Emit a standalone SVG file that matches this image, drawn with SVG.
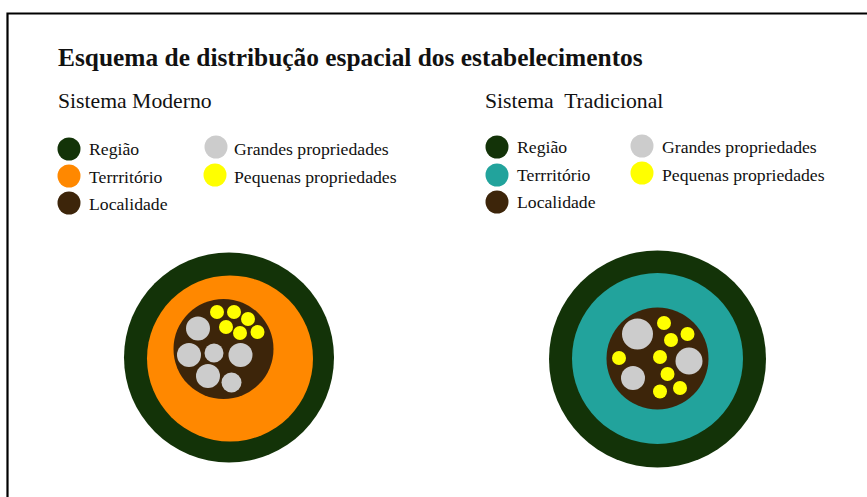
<svg xmlns="http://www.w3.org/2000/svg" width="867" height="497" viewBox="0 0 867 497">
<style>
text{font-family:"Liberation Serif","Times New Roman",serif;fill:#111}
.title{font-size:25.4px;font-weight:bold}
.sub{font-size:21.7px}
.leg{font-size:17.7px}
.reg{fill:#133308}
.ter{fill:#ff8800}
.ter2{fill:#22a39c}
.loc{fill:#3d250a}
.gra{fill:#cccccc}
.peq{fill:#ffff00}
</style>
<rect width="867" height="497" fill="#fff"/>
<path d="M7.5 497 V13.5 H867" fill="none" stroke="#000" stroke-width="2.2"/>
<text class="title" x="58" y="66">Esquema de distribução espacial dos estabelecimentos</text>
<g id="legend-moderno">
<text class="sub" x="58" y="108">Sistema Moderno</text>
<circle class="reg" cx="69" cy="149" r="11.5"/><text class="leg" x="89" y="155">Região</text>
<circle class="ter" cx="69" cy="176" r="11.5"/><text class="leg" x="89" y="183">Terrritório</text>
<circle class="loc" cx="69" cy="203" r="11.5"/><text class="leg" x="89" y="210">Localidade</text>
<circle class="gra" cx="216" cy="147" r="11.5"/><text class="leg" x="234" y="155">Grandes propriedades</text>
<circle class="peq" cx="215" cy="175" r="11.5"/><text class="leg" x="234" y="183">Pequenas propriedades</text>
</g>
<g id="legend-tradicional">
<text class="sub" x="485" y="108" xml:space="preserve" style="white-space:pre">Sistema  Tradicional</text>
<circle class="reg" cx="497" cy="147" r="11.5"/><text class="leg" x="517" y="153">Região</text>
<circle class="ter2" cx="497" cy="175" r="11.5"/><text class="leg" x="517" y="181">Terrritório</text>
<circle class="loc" cx="497" cy="202" r="11.5"/><text class="leg" x="517" y="208">Localidade</text>
<circle class="gra" cx="642" cy="146" r="11.5"/><text class="leg" x="662" y="153">Grandes propriedades</text>
<circle class="peq" cx="642" cy="173" r="11.5"/><text class="leg" x="662" y="181">Pequenas propriedades</text>
</g>
<g id="moderno">
<circle class="reg" cx="229" cy="357.5" r="105"/>
<circle class="ter" cx="230" cy="358.5" r="83"/>
<circle class="loc" cx="223.5" cy="349" r="50"/>
<circle class="gra" cx="198" cy="328.5" r="12"/>
<circle class="gra" cx="189" cy="355" r="12"/>
<circle class="gra" cx="214" cy="353" r="9.5"/>
<circle class="gra" cx="240.5" cy="355" r="12"/>
<circle class="gra" cx="208" cy="376" r="12"/>
<circle class="gra" cx="231.5" cy="382.5" r="10"/>
<circle class="peq" cx="217" cy="312" r="7"/>
<circle class="peq" cx="234" cy="312" r="7"/>
<circle class="peq" cx="248" cy="319" r="7"/>
<circle class="peq" cx="226" cy="327" r="7"/>
<circle class="peq" cx="240" cy="333" r="7"/>
<circle class="peq" cx="257.5" cy="332" r="7"/>
</g>
<g id="tradicional">
<circle class="reg" cx="657.5" cy="359" r="108.5"/>
<circle class="ter2" cx="657.5" cy="358.5" r="85.5"/>
<circle class="loc" cx="657.5" cy="358.5" r="51"/>
<circle class="gra" cx="637.5" cy="334" r="15.5"/>
<circle class="gra" cx="689" cy="361" r="13.5"/>
<circle class="gra" cx="633" cy="378" r="12"/>
<circle class="peq" cx="664" cy="323" r="7"/>
<circle class="peq" cx="687.5" cy="334" r="7"/>
<circle class="peq" cx="671" cy="340" r="7"/>
<circle class="peq" cx="619" cy="358" r="7"/>
<circle class="peq" cx="660" cy="357" r="7"/>
<circle class="peq" cx="667.5" cy="374" r="7"/>
<circle class="peq" cx="680" cy="388" r="7"/>
<circle class="peq" cx="660" cy="391.5" r="7"/>
</g>
</svg>
